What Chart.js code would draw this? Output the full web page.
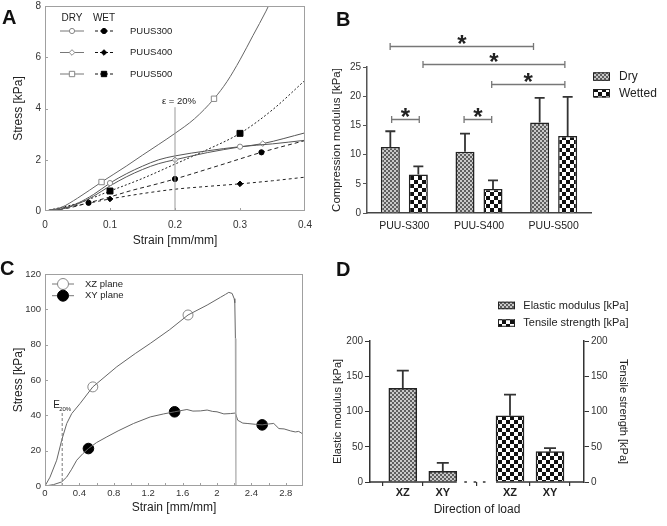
<!DOCTYPE html>
<html>
<head>
<meta charset="utf-8">
<script src="https://cdn.jsdelivr.net/npm/chart.js@4.4.0/dist/chart.umd.min.js"></script>
<style>
html,body{margin:0;padding:0;background:#fff;}
#wrap{position:relative;width:667px;height:526px;overflow:hidden;}
.box{position:absolute;}
.tag{position:absolute;font:bold 20px 'Liberation Sans',Arial,sans-serif;line-height:20px;color:#111;}
</style>
</head>
<body>
<div id="wrap">
<div class="box" style="left:0;top:-4px"><canvas id="cA" width="330" height="264"></canvas></div>
<div class="box" style="left:330px;top:0"><canvas id="cB" width="337" height="260"></canvas></div>
<div class="box" style="left:0;top:260px"><canvas id="cC" width="330" height="266"></canvas></div>
<div class="box" style="left:330px;top:260px"><canvas id="cD" width="337" height="266"></canvas></div>
<div class="tag" style="left:2px;top:7px">A</div>
<div class="tag" style="left:336px;top:9px">B</div>
<div class="tag" style="left:0;top:258px">C</div>
<div class="tag" style="left:336px;top:259px">D</div>
</div>
<script>
const FONT = "'Liberation Sans', Arial, sans-serif";
Chart.defaults.font.family = FONT;
Chart.defaults.color = '#222';
Chart.defaults.animation = false;

/* ---- A: compression stress-strain ---- */
const aNames = ['PUUS300', 'PUUS400', 'PUUS500'];
const aDry300X = [0, 0.025, 0.05, 0.075, 0.1, 0.125, 0.15, 0.175, 0.2, 0.25, 0.3, 0.35, 0.4];
const aDry300Y = [0, 0.08, 0.3, 0.65, 1.09, 1.45, 1.75, 2.0, 2.15, 2.35, 2.51, 2.62, 2.76];
const aDry400X = [0, 0.025, 0.05, 0.075, 0.1, 0.125, 0.15, 0.175, 0.2, 0.25, 0.3, 0.335, 0.4];
const aDry400Y = [0, 0.07, 0.27, 0.58, 0.98, 1.33, 1.62, 1.85, 2.0, 2.28, 2.5, 2.63, 3.05];
const aDry500X = [0, 0.025, 0.05, 0.087, 0.125, 0.15, 0.175, 0.2, 0.23, 0.26, 0.28, 0.3, 0.32, 0.34, 0.355];
const aDry500Y = [0, 0.14, 0.5, 1.13, 1.75, 2.18, 2.6, 3.03, 3.6, 4.38, 5.05, 5.9, 6.85, 7.8, 8.6];
const aWet300X = [0, 0.033, 0.067, 0.1, 0.133, 0.167, 0.2, 0.267, 0.333, 0.4];
const aWet300Y = [0, 0.1, 0.32, 0.55, 0.8, 1.02, 1.25, 1.77, 2.29, 2.75];
const aWet400X = [0, 0.05, 0.1, 0.15, 0.2, 0.25, 0.3, 0.35, 0.4];
const aWet400Y = [0, 0.22, 0.47, 0.68, 0.85, 0.96, 1.06, 1.18, 1.32];
const aWet500X = [0, 0.05, 0.1, 0.15, 0.2, 0.25, 0.3, 0.35, 0.4];
const aWet500Y = [0, 0.3, 0.78, 1.27, 1.83, 2.4, 3.03, 3.95, 5.1];
const aDry300Mk = [0.1, 0.3];
const aDry400Mk = [0.2, 0.335];
const aDry500Mk = [0.087, 0.26];
const aWet300Mk = [0.067, 0.2, 0.333];
const aWet400Mk = [0.1, 0.3];
const aWet500Mk = [0.1, 0.3];
const aEpsX = [0.2, 0.2];
const aEpsY = [0, 4.05];
const aXTicks = [0.1, 0.2, 0.3];
const aYTicks = [2, 4, 6];

/* ---- B: compression modulus ---- */
const bCats = ['PUU-S300', 'PUU-S400', 'PUU-S500'];
const bDry = [11.3, 10.5, 15.5];
const bDrySd = [2.7, 3.1, 4.2];
const bWet = [6.6, 4.1, 13.2];
const bWetSd = [1.4, 1.5, 6.7];
// significance brackets: from, to (category units), level (kPa)
const bSig = [[-0.19, 1.73, 28.6], [0.25, 2.15, 25.5], [1.17, 2.15, 22.1], [-0.17, 0.2, 16.1], [0.8, 1.17, 16.1]];

/* ---- C: tensile stress-strain ---- */
const cXZx = [0, 0.058, 0.136, 0.194, 0.253, 0.311, 0.408, 0.556, 0.835, 1.05, 1.224, 1.45, 1.663, 1.885, 2.04, 2.1, 2.137, 2.176, 2.2, 2.207, 2.214];
const cXZy = [0, 5, 14.6, 25.9, 35.4, 41, 46.7, 56.1, 67.5, 75, 80.7, 88.5, 96.8, 102.4, 106.8, 108.5, 109.6, 109, 106, 103.7, 83.5];
const cDropX = [2.214, 2.22];
const cDropY = [83.5, 0];
const cXYx = [0, 0.1, 0.194, 0.253, 0.31, 0.369, 0.44, 0.505, 0.6, 0.719, 0.85, 1.03, 1.224, 1.38, 1.507, 1.65, 1.72, 1.807, 1.885, 1.95, 2.0, 2.08, 2.156, 2.214, 2.241, 2.3, 2.35, 2.45, 2.525, 2.6, 2.66, 2.72, 2.78, 2.855, 2.91, 2.95, 2.99];
const cXYy = [0, 0.8, 2.3, 5.1, 9.5, 14.6, 18.3, 21.2, 24.6, 27.8, 31.2, 35.4, 39.1, 40.8, 42, 43.3, 42.4, 42.5, 43, 42.2, 42, 40.8, 41, 41.3, 37.2, 35.6, 35.4, 34.9, 34.6, 35.1, 35.4, 32.5, 32.3, 31.2, 30.6, 30.9, 29.7];
const cXZmkX = [0.556, 1.663];
const cXZmkY = [56.1, 96.8];
const cXYmkX = [0.505, 1.507, 2.525];
const cXYmkY = [21.2, 42, 34.6];
const cEX = [0.2, 0.2];
const cEY = [0, 42];
const cXTicks = [0.2, 0.4, 0.6, 0.8, 1, 1.2, 1.4, 1.6, 1.8, 2, 2.2, 2.4, 2.6, 2.8];
const cYTicks = [20, 40, 60, 80, 100];

/* ---- D: tensile modulus / strength ---- */
const dTicks = ['XZ', 'XY', 'XZ', 'XY'];
const dPos = [1, 2, 3.68, 4.68];
const dElastic = [133, 15];
const dElasticSd = [25, 12];
const dTensile = [94, 43];
const dTensileSd = [30, 5];

const pts = (xs, ys) => xs.map((x, i) => ({x, y: ys[i]}));
const fmt1 = v => String(Math.round(v * 10) / 10);

function pattern(id, cell, a, b) {
  const c = document.createElement('canvas');
  c.width = c.height = cell * 2;
  const g = c.getContext('2d');
  g.fillStyle = a; g.fillRect(0, 0, cell * 2, cell * 2);
  g.fillStyle = b; g.fillRect(0, 0, cell, cell); g.fillRect(cell, cell, cell, cell);
  return document.getElementById(id).getContext('2d').createPattern(c, 'repeat');
}

function curve(xs, ys, marks, st) {
  return {
    data: pts(xs, ys),
    borderColor: st.line, borderWidth: 1, borderDash: st.dash || [],
    cubicInterpolationMode: 'monotone',
    pointStyle: st.shape,
    pointRadius: c => (c.raw && marks.includes(c.raw.x)) ? st.r : 0,
    pointBackgroundColor: st.fill, pointBorderColor: st.edge, pointBorderWidth: 1
  };
}

function framePlugin(xt, yt) {
  return {
    id: 'frame',
    afterDraw(chart) {
      const {ctx, chartArea: a, scales: {x, y}} = chart;
      ctx.save();
      ctx.strokeStyle = '#a0a0a0'; ctx.lineWidth = 1; ctx.setLineDash([]);
      ctx.strokeRect(Math.round(a.left) + 0.5, Math.round(a.top) + 0.5, Math.round(a.width) - 1, Math.round(a.height) - 1);
      ctx.beginPath();
      xt.forEach(v => { const p = Math.round(x.getPixelForValue(v)) + 0.5; ctx.moveTo(p, a.bottom); ctx.lineTo(p, a.bottom - 3); });
      yt.forEach(v => { const p = Math.round(y.getPixelForValue(v)) + 0.5; ctx.moveTo(a.left, p); ctx.lineTo(a.left + 3, p); });
      ctx.stroke();
      ctx.restore();
    }
  };
}

function errPlugin(sds, cap) {
  return {
    id: 'err',
    afterDatasetsDraw(chart) {
      const ctx = chart.ctx;
      ctx.save();
      ctx.strokeStyle = '#333'; ctx.lineWidth = 1.8;
      chart.data.datasets.forEach((ds, di) => {
        const meta = chart.getDatasetMeta(di), ys = chart.scales[meta.yAxisID];
        meta.data.forEach((bar, i) => {
          const raw = ds.data[i], v = typeof raw === 'object' ? raw.y : raw;
          const top = ys.getPixelForValue(v + sds[di][i]);
          ctx.beginPath();
          ctx.moveTo(bar.x, bar.y); ctx.lineTo(bar.x, top);
          ctx.moveTo(bar.x - cap / 2, top); ctx.lineTo(bar.x + cap / 2, top);
          ctx.stroke();
        });
      });
      ctx.restore();
    }
  };
}

function drawMark(ctx, shape, r, x, y, fill, edge) {
  ctx.setLineDash([]);
  ctx.fillStyle = fill; ctx.strokeStyle = edge; ctx.lineWidth = 1;
  Chart.helpers.drawPoint(ctx, {pointStyle: shape, radius: r, rotation: 0, borderWidth: 1}, x, y);
}

/* ---------- A ---------- */
const aShapes = ['circle', 'rectRot', 'rect'];
const aRad = [2.6, 2.8, 3.8];
const aWetDash = [[4, 3], [3, 3], [2, 2]];

const aLegend = {
  id: 'aLegend',
  afterDraw(chart) {
    const ctx = chart.ctx, L = chart.chartArea.left, T = chart.chartArea.top;
    ctx.save();
    ctx.font = '10px ' + FONT; ctx.fillStyle = '#222';
    ctx.textAlign = 'center'; ctx.textBaseline = 'middle';
    ctx.fillText('DRY', L + 27, T + 12);
    ctx.fillText('WET', L + 59, T + 12);
    aNames.forEach((name, i) => {
      const yy = T + 25 + i * 21.5;
      ctx.lineWidth = 1;
      ctx.strokeStyle = '#777'; ctx.setLineDash([]);
      ctx.beginPath(); ctx.moveTo(L + 15, yy); ctx.lineTo(L + 39, yy); ctx.stroke();
      drawMark(ctx, aShapes[i], aRad[i], L + 27, yy, '#fff', '#888');
      ctx.strokeStyle = '#111'; ctx.setLineDash([3, 2]);
      ctx.beginPath(); ctx.moveTo(L + 50, yy); ctx.lineTo(L + 69, yy); ctx.stroke();
      drawMark(ctx, aShapes[i], aRad[i], L + 59, yy, '#000', '#000');
      ctx.fillStyle = '#222'; ctx.textAlign = 'left'; ctx.font = '9.5px ' + FONT;
      ctx.fillText(name, L + 85, yy);
      ctx.font = '10px ' + FONT;
    });
    const xs = chart.scales.x, ys = chart.scales.y;
    ctx.textAlign = 'center'; ctx.textBaseline = 'alphabetic'; ctx.font = '9.5px ' + FONT;
    ctx.fillText('\u03b5 = 20%', xs.getPixelForValue(aEpsX[1]) + 4, ys.getPixelForValue(aEpsY[1]) - 3);
    ctx.restore();
  }
};

new Chart(document.getElementById('cA'), {
  type: 'line',
  data: {
    datasets: [
      {data: pts(aEpsX, aEpsY), borderColor: '#999', borderWidth: 1, pointRadius: 0},
      curve(aDry500X, aDry500Y, aDry500Mk, {line: '#666', shape: 'rect', r: 3.8, fill: '#fff', edge: '#888'}),
      curve(aDry300X, aDry300Y, aDry300Mk, {line: '#555', shape: 'circle', r: 2.6, fill: '#fff', edge: '#888'}),
      curve(aDry400X, aDry400Y, aDry400Mk, {line: '#555', shape: 'rectRot', r: 2.8, fill: '#fff', edge: '#888'}),
      curve(aWet300X, aWet300Y, aWet300Mk, {line: '#222', dash: aWetDash[0], shape: 'circle', r: 2.6, fill: '#000', edge: '#000'}),
      curve(aWet400X, aWet400Y, aWet400Mk, {line: '#222', dash: aWetDash[1], shape: 'rectRot', r: 2.8, fill: '#000', edge: '#000'}),
      curve(aWet500X, aWet500Y, aWet500Mk, {line: '#222', dash: aWetDash[2], shape: 'rect', r: 4.2, fill: '#000', edge: '#000'})
    ]
  },
  options: {
    responsive: false,
    layout: {padding: {top: 7, right: 25, left: 0, bottom: 0}},
    plugins: {legend: {display: false}, tooltip: {enabled: false}},
    scales: {
      x: {
        type: 'linear', min: 0, max: 0.4,
        grid: {display: false, drawTicks: false}, border: {display: false},
        ticks: {stepSize: 0.1, padding: 8, font: {size: 10}, color: '#333', callback: fmt1},
        title: {display: true, text: 'Strain [mm/mm]', font: {size: 12}, color: '#222', padding: {top: 0, bottom: 12}},
        afterFit: s => { s.height = 49; }
      },
      y: {
        min: 0, max: 8,
        grid: {display: false, drawTicks: false}, border: {display: false},
        ticks: {stepSize: 2, padding: 4, font: {size: 10}, color: '#333'},
        title: {display: true, text: 'Stress [kPa]', font: {size: 12}, color: '#222', padding: {top: 11, bottom: 0}},
        afterFit: s => { s.width = 45; }
      }
    }
  },
  plugins: [framePlugin(aXTicks, aYTicks), aLegend]
});

/* ---------- B ---------- */
const patDryB = pattern('cB', 2, '#c9c9c9', '#5e5e5e');
const patWetB = pattern('cB', 4, '#ffffff', '#111111');

const bExtras = {
  id: 'bExtras',
  afterDraw(chart) {
    const ctx = chart.ctx, xs = chart.scales.x, ys = chart.scales.y;
    ctx.save();
    bSig.forEach(([a, b, lv]) => {
      const x1 = xs.getPixelForValue(a), x2 = xs.getPixelForValue(b);
      const y = Math.round(ys.getPixelForValue(lv)) + 0.5;
      ctx.strokeStyle = '#777'; ctx.lineWidth = 1.3;
      ctx.beginPath();
      ctx.moveTo(x1, y); ctx.lineTo(x2, y);
      ctx.moveTo(x1, y - 3.5); ctx.lineTo(x1, y + 3.5);
      ctx.moveTo(x2, y - 3.5); ctx.lineTo(x2, y + 3.5);
      ctx.stroke();
      ctx.fillStyle = '#222'; ctx.font = 'bold 24px ' + FONT;
      ctx.textAlign = 'center'; ctx.textBaseline = 'alphabetic';
      ctx.fillText('*', (x1 + x2) / 2, y + 5);
    });
    const x0 = chart.chartArea.right + 2;
    [[patDryB, 'Dry', 72.3], [patWetB, 'Wetted', 89]].forEach(([p, t, y]) => {
      ctx.fillStyle = p; ctx.fillRect(x0, y, 17, 8.5);
      ctx.strokeStyle = '#222'; ctx.lineWidth = 1; ctx.strokeRect(x0 + 0.5, y + 0.5, 16, 7.5);
      ctx.fillStyle = '#222'; ctx.font = '12px ' + FONT; ctx.textAlign = 'left'; ctx.textBaseline = 'middle';
      ctx.fillText(t, x0 + 26, y + 4.5);
    });
    ctx.restore();
  }
};

new Chart(document.getElementById('cB'), {
  type: 'bar',
  data: {
    labels: bCats,
    datasets: [
      {label: 'Dry', data: bDry, backgroundColor: patDryB, borderColor: '#222', borderWidth: 1.5},
      {label: 'Wetted', data: bWet, backgroundColor: patWetB, borderColor: '#222', borderWidth: 1.5}
    ]
  },
  options: {
    responsive: false,
    categoryPercentage: 0.75, barPercentage: 0.68,
    layout: {padding: {top: 67, right: 76, left: 0, bottom: 0}},
    plugins: {legend: {display: false}, tooltip: {enabled: false}},
    scales: {
      x: {
        grid: {display: false, drawTicks: false}, border: {display: true, color: '#444', width: 1.5},
        ticks: {padding: 7, font: {size: 10.5, family: "'Liberation Sans Narrow', " + FONT}, color: '#222'},
        afterFit: s => { s.height = 47; }
      },
      y: {
        min: 0, max: 25,
        grid: {drawOnChartArea: false, tickLength: 4, color: '#555'}, border: {color: '#555', width: 1.5},
        ticks: {stepSize: 5, padding: 2, font: {size: 10}, color: '#333'},
        title: {display: true, text: 'Compression modulus [kPa]', font: {size: 11.5}, color: '#222', padding: {top: 0, bottom: 0}},
        afterFit: s => { s.width = 37; }
      }
    }
  },
  plugins: [errPlugin([bDrySd, bWetSd], 10), bExtras]
});

/* ---------- C ---------- */
const cExtras = {
  id: 'cExtras',
  afterDraw(chart) {
    const ctx = chart.ctx, L = chart.chartArea.left, T = chart.chartArea.top;
    const xs = chart.scales.x, ys = chart.scales.y;
    ctx.save();
    [['XZ plane', '#fff', '#888'], ['XY plane', '#000', '#000']].forEach(([t, f, e], i) => {
      const yy = T + 10 + i * 11.7;
      ctx.strokeStyle = '#777'; ctx.lineWidth = 1; ctx.setLineDash([]);
      ctx.beginPath(); ctx.moveTo(L + 7, yy); ctx.lineTo(L + 29, yy); ctx.stroke();
      drawMark(ctx, 'circle', 5.5, L + 18, yy, f, e);
      ctx.fillStyle = '#222'; ctx.font = '9.5px ' + FONT; ctx.textAlign = 'left'; ctx.textBaseline = 'middle';
      ctx.fillText(t, L + 40, yy);
    });
    const ex = xs.getPixelForValue(cEX[1]), ey = ys.getPixelForValue(cEY[1]);
    ctx.fillStyle = '#222'; ctx.textBaseline = 'alphabetic';
    ctx.font = '10px ' + FONT; ctx.fillText('E', ex - 9, ey - 4);
    ctx.font = '6px ' + FONT; ctx.fillText('20%', ex - 3, ey - 1);
    ctx.restore();
  }
};

new Chart(document.getElementById('cC'), {
  type: 'line',
  data: {
    datasets: [
      {data: pts(cEX, cEY), borderColor: '#777', borderWidth: 1, borderDash: [3, 2], pointRadius: 0},
      {data: pts(cXZx, cXZy), borderColor: '#666', borderWidth: 1, pointRadius: 0},
      {data: pts(cDropX, cDropY), borderColor: '#aaa', borderWidth: 1.2, pointRadius: 0},
      {data: pts(cXYx, cXYy), borderColor: '#666', borderWidth: 1, pointRadius: 0},
      {data: pts(cXZmkX, cXZmkY), showLine: false, pointRadius: 5, pointBackgroundColor: '#fff', pointBorderColor: '#888', pointBorderWidth: 1},
      {data: pts(cXYmkX, cXYmkY), showLine: false, pointRadius: 5.3, pointBackgroundColor: '#000', pointBorderColor: '#000', pointBorderWidth: 1}
    ]
  },
  options: {
    responsive: false,
    layout: {padding: {top: 14, right: 27, left: 0, bottom: 0}},
    plugins: {legend: {display: false}, tooltip: {enabled: false}},
    scales: {
      x: {
        type: 'linear', min: 0, max: 3,
        grid: {display: false, drawTicks: false}, border: {display: false},
        ticks: {stepSize: 0.4, includeBounds: false, padding: 2, font: {size: 9.5}, color: '#333', callback: fmt1},
        title: {display: true, text: 'Strain [mm/mm]', font: {size: 12}, color: '#222', padding: {top: 0, bottom: 11}},
        afterFit: s => { s.height = 40; }
      },
      y: {
        min: 0, max: 120,
        grid: {display: false, drawTicks: false}, border: {display: false},
        ticks: {stepSize: 20, padding: 4, font: {size: 9.5}, color: '#333'},
        title: {display: true, text: 'Stress [kPa]', font: {size: 12}, color: '#222', padding: {top: 11, bottom: 0}},
        afterFit: s => { s.width = 45; }
      }
    }
  },
  plugins: [framePlugin(cXTicks, cYTicks), cExtras]
});

/* ---------- D ---------- */
const patDryD = pattern('cD', 2, '#c9c9c9', '#5e5e5e');
const patWetD = pattern('cD', 4, '#ffffff', '#111111');

const dExtras = {
  id: 'dExtras',
  afterDraw(chart) {
    const ctx = chart.ctx, a = chart.chartArea, xs = chart.scales.x;
    const g1 = xs.getPixelForValue(dPos[1]) + 14, g2 = xs.getPixelForValue(dPos[2]) - 14;
    const y = a.bottom;
    ctx.save();
    ctx.strokeStyle = '#333'; ctx.lineWidth = 1.5; ctx.setLineDash([]);
    ctx.beginPath();
    ctx.moveTo(a.left, y); ctx.lineTo(g1, y);
    ctx.moveTo(g2, y); ctx.lineTo(a.right, y);
    // broken-axis dashes in the gap
    for (let k = 0; k < 3; k++) {
      const s = g1 + 7.5 + k * 9.3;
      ctx.moveTo(s, y); ctx.lineTo(s + 2.6, y);
    }
    ctx.stroke();
    [[patDryD, 'Elastic modulus [kPa]', 41.7], [patWetD, 'Tensile strength [kPa]', 59.3]].forEach(([p, t, yy]) => {
      ctx.fillStyle = p; ctx.fillRect(168, yy, 17, 7.5);
      ctx.strokeStyle = '#222'; ctx.lineWidth = 1; ctx.strokeRect(168.5, yy + 0.5, 16, 6.5);
      ctx.fillStyle = '#222'; ctx.font = '11px ' + FONT; ctx.textAlign = 'left'; ctx.textBaseline = 'middle';
      ctx.fillText(t, 193.3, yy + 4);
    });
    ctx.restore();
  }
};

new Chart(document.getElementById('cD'), {
  type: 'bar',
  data: {
    datasets: [
      {label: 'Elastic modulus [kPa]', data: pts(dPos.slice(0, 2), dElastic), yAxisID: 'y',
        backgroundColor: patDryD, borderColor: '#222', borderWidth: 1.5, barThickness: 28, grouped: false},
      {label: 'Tensile strength [kPa]', data: pts(dPos.slice(2), dTensile), yAxisID: 'y2',
        backgroundColor: patWetD, borderColor: '#222', borderWidth: 1.5, barThickness: 28, grouped: false}
    ]
  },
  options: {
    responsive: false,
    layout: {padding: {top: 81, right: 0, left: 0, bottom: 0}},
    plugins: {legend: {display: false}, tooltip: {enabled: false}},
    scales: {
      x: {
        type: 'linear', min: 0.18, max: 5.53, offset: false,
        afterBuildTicks: s => { s.ticks = dPos.map(v => ({value: v})); },
        grid: {drawOnChartArea: false, tickLength: 4, color: '#333', lineWidth: 1.2}, border: {display: false},
        ticks: {padding: 0, font: {size: 11, weight: 'bold'}, color: '#222', callback: (v, i) => dTicks[i]},
        title: {display: true, text: 'Direction of load', font: {size: 12}, color: '#222', padding: {top: 0, bottom: 9}},
        afterFit: s => { s.height = 44; }
      },
      y: {
        position: 'left', min: 0, max: 200,
        grid: {drawOnChartArea: false, tickLength: 5, color: '#333'}, border: {color: '#333', width: 1.5},
        ticks: {stepSize: 50, padding: 2, font: {size: 10}, color: '#333'},
        title: {display: true, text: 'Elastic modulus [kPa]', font: {size: 11}, color: '#222', padding: {top: 1.4, bottom: 0}},
        afterFit: s => { s.width = 40; }
      },
      y2: {
        position: 'right', min: 0, max: 200,
        grid: {drawOnChartArea: false, tickLength: 5, color: '#333'}, border: {color: '#333', width: 1.5},
        ticks: {stepSize: 50, padding: 2, font: {size: 10}, color: '#333'},
        title: {display: true, text: 'Tensile strength [kPa]', font: {size: 11}, color: '#222', padding: {top: 37.7, bottom: 0}},
        afterFit: s => { s.width = 83; }
      }
    }
  },
  plugins: [errPlugin([dElasticSd, dTensileSd], 12), dExtras]
});
</script>
</body>
</html>
